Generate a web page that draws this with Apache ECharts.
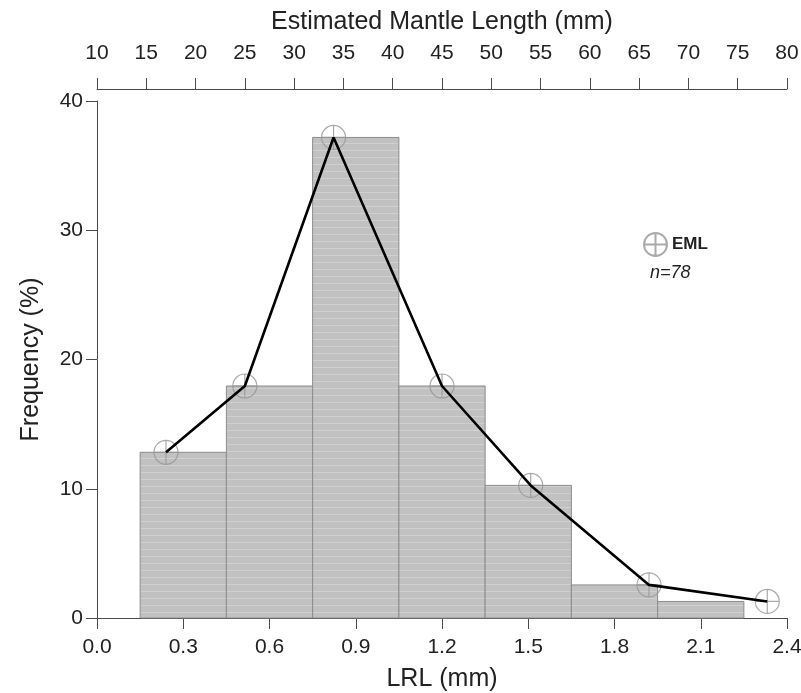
<!DOCTYPE html>
<html>
<head>
<meta charset="utf-8">
<script src="https://cdn.jsdelivr.net/npm/echarts@6/dist/echarts.min.js"></script>
<style>
html,body{margin:0;padding:0;background:#fff;}
#chart{width:801px;height:693px;}
</style>
</head>
<body>
<div id="chart"></div>
<script>
// Histogram bins (LRL, mm) and frequencies (%)
const binStart = [0.15, 0.45, 0.75, 1.05, 1.35, 1.65, 1.95];
const binEnd   = [0.45, 0.75, 1.05, 1.35, 1.65, 1.95, 2.25];
const freq     = [12.82, 17.95, 37.18, 17.95, 10.26, 2.56, 1.28];
// Estimated Mantle Length points (mm) on the top axis
const emlX     = [17, 25, 34, 45, 54, 66, 78];
const emlY     = [12.82, 17.95, 37.18, 17.95, 10.26, 2.56, 1.28];
// Axis tick labels
const lrlTicks = [0.0, 0.3, 0.6, 0.9, 1.2, 1.5, 1.8, 2.1, 2.4];
const emlTicks = [10, 15, 20, 25, 30, 35, 40, 45, 50, 55, 60, 65, 70, 75, 80];
const yTicks   = [0, 10, 20, 30, 40];

const FONT = '"Liberation Sans", Arial, Helvetica, sans-serif';
const TXT = '#222';
const AX = '#4a4a4a';

// striped grey fill for bars
const cv = document.createElement('canvas');
cv.width = 8; cv.height = 7;
const cx = cv.getContext('2d');
cx.fillStyle = '#c1c1c1'; cx.fillRect(0, 0, 8, 7);
cx.fillStyle = '#d0d0d0'; cx.fillRect(0, 3, 8, 1);
const pattern = {image: cv, repeat: 'repeat'};

const histData = binStart.map((s, i) => [s, binEnd[i], freq[i]]);
const pointData = emlX.map((x, i) => [x, emlY[i]]);

const markerPath = 'path://M0,-10A10,10 0 1 1 0,10A10,10 0 1 1 0,-10Z M-10,0L10,0 M0,-10L0,10';

const chart = echarts.init(document.getElementById('chart'), null, {renderer: 'canvas'});
chart.setOption({
  animation: false,
  backgroundColor: '#fff',
  textStyle: {fontFamily: FONT},
  title: {
    text: 'n=78', left: 645, top: 259,
    textStyle: {fontFamily: FONT, fontSize: 18, fontStyle: 'italic', fontWeight: 'normal', color: TXT}
  },
  legend: {
    data: ['EML'], left: 638, top: 227,
    icon: markerPath, itemWidth: 23, itemHeight: 23, itemGap: 5,
    textStyle: {fontFamily: FONT, fontSize: 17, fontWeight: 'bold', color: TXT}
  },
  grid: {left: 97, right: 14, top: 101, bottom: 75, containLabel: false, outerBoundsMode: 'none'},
  xAxis: [{
    type: 'value', position: 'bottom',
    min: lrlTicks[0], max: lrlTicks[lrlTicks.length - 1], interval: 0.3,
    name: 'LRL (mm)', nameLocation: 'middle', nameGap: 49,
    nameTextStyle: {fontFamily: FONT, fontSize: 25, color: TXT},
    axisLine: {show: true, lineStyle: {color: AX, width: 1}},
    axisTick: {show: true, length: 11, lineStyle: {color: AX}},
    axisLabel: {fontFamily: FONT, fontSize: 21, color: TXT, margin: 19,
      formatter: v => v.toFixed(1)},
    splitLine: {show: false}
  }, {
    type: 'value', position: 'top', offset: 12,
    min: emlTicks[0], max: emlTicks[emlTicks.length - 1], interval: 5,
    name: 'Estimated Mantle Length (mm)', nameLocation: 'middle', nameGap: 54,
    nameTextStyle: {fontFamily: FONT, fontSize: 25, color: TXT},
    axisLine: {show: true, lineStyle: {color: AX, width: 1}},
    axisTick: {show: true, length: 11, lineStyle: {color: AX}},
    axisLabel: {fontFamily: FONT, fontSize: 21, color: TXT, margin: 25},
    splitLine: {show: false}
  }],
  yAxis: [{
    type: 'value', min: yTicks[0], max: yTicks[yTicks.length - 1], interval: 10,
    name: 'Frequency (%)', nameLocation: 'middle', nameGap: 53,
    nameTextStyle: {fontFamily: FONT, fontSize: 25, color: TXT},
    axisLine: {show: true, lineStyle: {color: AX, width: 1}},
    axisTick: {show: true, length: 11, lineStyle: {color: AX}},
    axisLabel: {fontFamily: FONT, fontSize: 21, color: TXT, margin: 14},
    splitLine: {show: false}
  }],
  series: [{
    type: 'custom', name: 'hist', xAxisIndex: 0, yAxisIndex: 0,
    data: histData, encode: {x: [0, 1], y: 2}, z: 1,
    renderItem: function (params, api) {
      const p0 = api.coord([api.value(0), api.value(2)]);
      const p1 = api.coord([api.value(1), 0]);
      return {
        type: 'rect',
        shape: {x: p0[0], y: p0[1], width: p1[0] - p0[0], height: p1[1] - p0[1]},
        style: {fill: pattern, stroke: '#8c8c8c', lineWidth: 1}
      };
    }
  }, {
    type: 'scatter', name: 'EML', xAxisIndex: 1, yAxisIndex: 0,
    data: pointData, symbol: markerPath, symbolSize: 24, z: 3,
    itemStyle: {color: 'rgba(255,255,255,0)', borderColor: '#959595', borderWidth: 1.2}
  }, {
    type: 'line', name: 'EMLline', xAxisIndex: 1, yAxisIndex: 0,
    data: pointData, symbol: 'none', z: 4,
    lineStyle: {color: '#000', width: 2.6}
  }]
});
</script>
</body>
</html>
